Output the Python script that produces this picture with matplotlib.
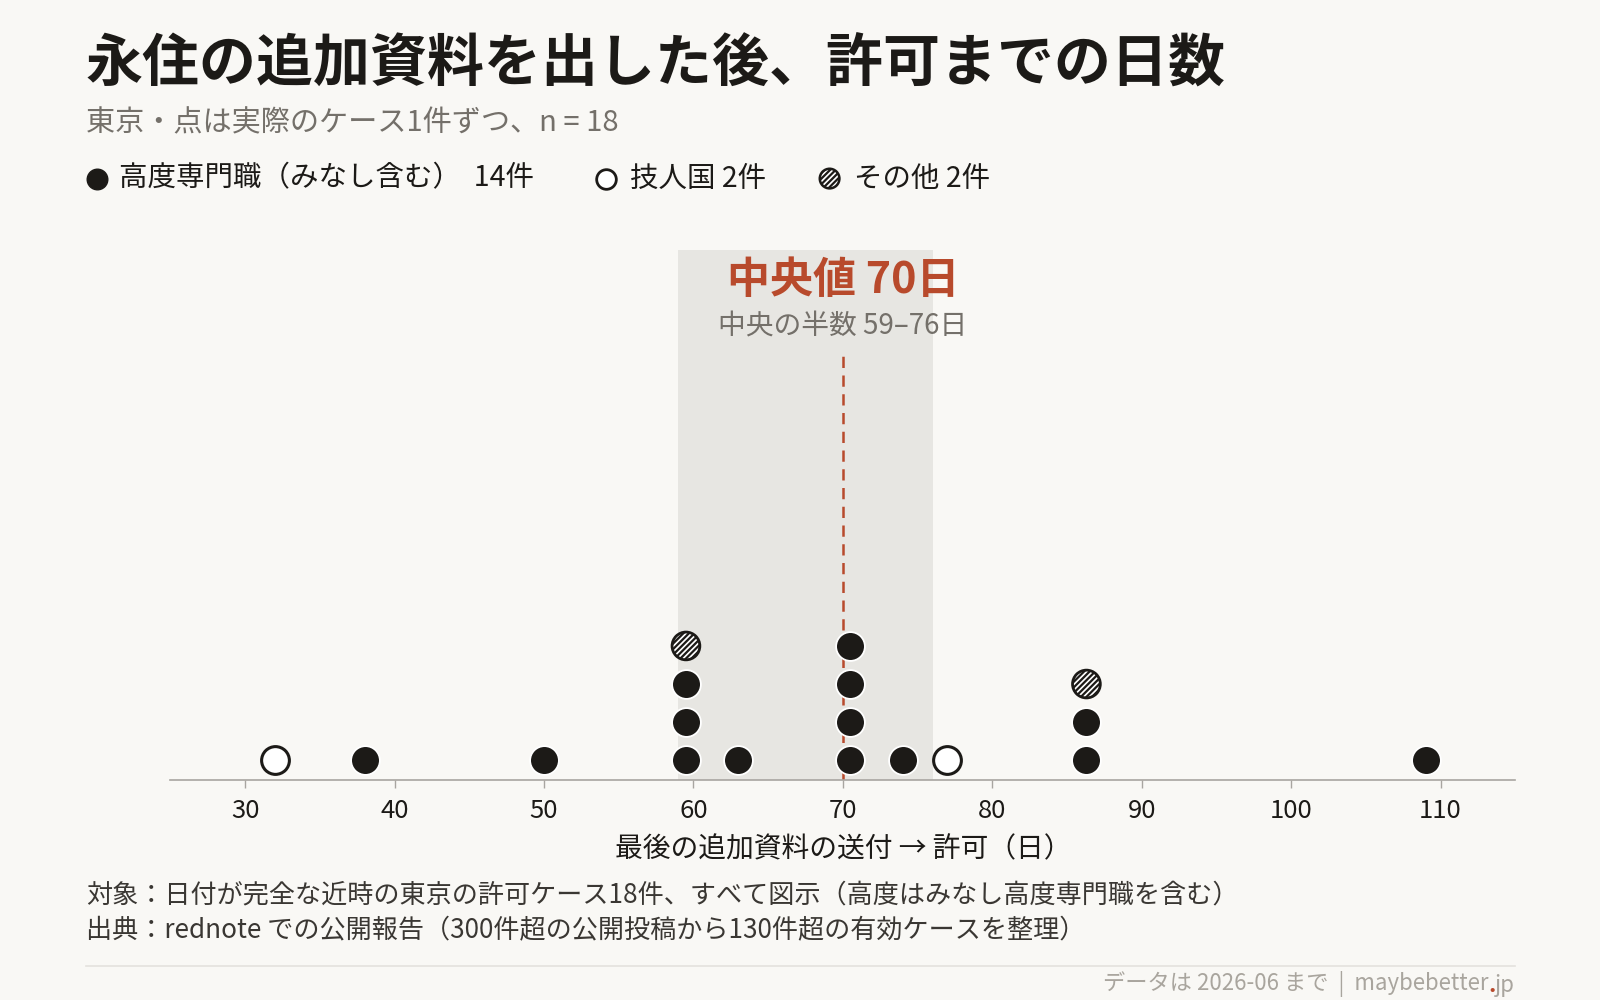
import matplotlib
matplotlib.use('Agg')
import matplotlib.pyplot as plt
from collections import defaultdict

plt.rcParams['font.family'] = ['Noto Sans CJK JP', 'DejaVu Sans']
plt.rcParams['hatch.linewidth'] = 1.6

# ── Data ─────────────────────────────────────────────────────────────────────
# days from last additional document to approval, one entry per case
days_koudo = [38, 50, 59.5, 59.5, 59.5, 63, 70.5, 70.5, 70.5, 70.5, 74, 86.3, 86.3, 109]
days_gijinkoku = [32, 77]
days_other = [59.5, 86.3]

median_days = 70
q1_days, q3_days = 59, 76
xticks = [30, 40, 50, 60, 70, 80, 90, 100, 110]

title = '永住の追加資料を出した後、許可までの日数'
subtitle = '東京・点は実際のケース1件ずつ、n = 18'
legend_labels = ['高度専門職（みなし含む）  14件', '技人国 2件', 'その他 2件']
xlabel = '最後の追加資料の送付 → 許可（日）'
notes = ['対象：日付が完全な近時の東京の許可ケース18件、すべて図示（高度はみなし高度専門職を含む）',
         '出典：rednote での公開報告（300件超の公開投稿から130件超の有効ケースを整理）']
median_label = f'中央値 {median_days}日'
iqr_label = f'中央の半数 {q1_days}–{q3_days}日'

# ── Style ────────────────────────────────────────────────────────────────────
BG = '#f9f8f5'
INK = '#1c1a17'
RUST = '#b84a2c'
BAND = '#e7e6e2'
GREY = '#74706a'

W, H = 1568, 980  # layout grid in reference pixels

fig = plt.figure(figsize=(16, 10), dpi=100, facecolor=BG)

# overlay axes in pixel coords for header / footer
ov = fig.add_axes([0, 0, 1, 1])
ov.set_xlim(0, W)
ov.set_ylim(H, 0)
ov.axis('off')
ov.patch.set_alpha(0)

ov.text(84, 63, title, fontsize=41, fontweight='bold', color=INK, va='center', ha='left')
ov.text(84, 121, subtitle, fontsize=21, color=GREY, va='center', ha='left')

# legend row
leg_y = 175
ov.scatter([95], [leg_y], s=220, color=INK, edgecolor=INK, lw=1)
ov.text(117, leg_y, legend_labels[0], fontsize=20.5, color=INK, va='center')
ov.scatter([594], [leg_y], s=200, facecolor='white', edgecolor=INK, lw=2)
ov.text(617, leg_y, legend_labels[1], fontsize=20.5, color=INK, va='center')
ov.scatter([813], [leg_y], s=200, facecolor='white', edgecolor=INK, lw=1.8, hatch='//////')
ov.text(837, leg_y, legend_labels[2], fontsize=20.5, color=INK, va='center')

# notes & footer
ov.text(84, 877, notes[0], fontsize=18.8, color='#3a3733', va='center')
ov.text(84, 912, notes[1], fontsize=18.8, color='#3a3733', va='center')
ov.plot([84, 1485], [947, 947], color='#e4e2dd', lw=1.2)
t_jp = ov.text(1485, 977, 'jp', fontsize=16, color='#a9a59e', ha='right', va='bottom')
t_dot = ov.annotate('.', xy=(0, 0), xycoords=t_jp, fontsize=16, color=RUST,
                    ha='right', va='bottom', fontweight='bold')
ov.annotate('データは 2026-06 まで  |  maybebetter', xy=(0, 0), xycoords=t_dot,
            fontsize=16, color='#a9a59e', ha='right', va='bottom')

# ── Main dot plot ────────────────────────────────────────────────────────────
ax = fig.add_axes([167 / W, 1 - 764 / H, (1485 - 167) / W, (764 - 245) / H])
ax.patch.set_alpha(0)

levels = defaultdict(int)

def stack(values):
    ys = []
    for v in values:
        ys.append(levels[v])
        levels[v] += 1
    return ys

y_koudo = stack(days_koudo)
y_gij = stack(days_gijinkoku)
y_other = stack(days_other)

ax.axvspan(q1_days, q3_days, color=BAND, zorder=0, lw=0)
ax.plot([median_days, median_days], [-0.51, 10.67], color=RUST, lw=1.8,
        dashes=(4.5, 3), zorder=1)

ax.scatter(days_koudo, y_koudo, s=430, color=INK, edgecolor='white', lw=1.3, zorder=3)
ax.scatter(days_gijinkoku, y_gij, s=400, facecolor='white', edgecolor=INK, lw=2.2, zorder=3)
ax.scatter(days_other, y_other, s=400, facecolor='white', edgecolor=INK, lw=2,
           hatch='//////', zorder=3)

ax.text(median_days, 12.6, median_label, fontsize=31, fontweight='bold', color=RUST,
        ha='center', va='center')
ax.text(median_days, 11.4, iqr_label, fontsize=20, color=GREY, ha='center', va='center')

ax.set_xlim(25, 115)
ax.set_ylim(-0.51, 13.4)
ax.set_xticks(xticks)
ax.set_yticks([])
for s in ['top', 'right', 'left']:
    ax.spines[s].set_visible(False)
ax.spines['bottom'].set_color('#a8a5a0')
ax.spines['bottom'].set_linewidth(1.2)
ax.tick_params(axis='x', length=6, width=1, color='#a8a5a0', labelsize=18.5,
               labelcolor=INK, pad=7)
ax.set_xlabel(xlabel, fontsize=20, color=INK, labelpad=8)

fig.savefig('out.png', dpi=100, facecolor=BG)
